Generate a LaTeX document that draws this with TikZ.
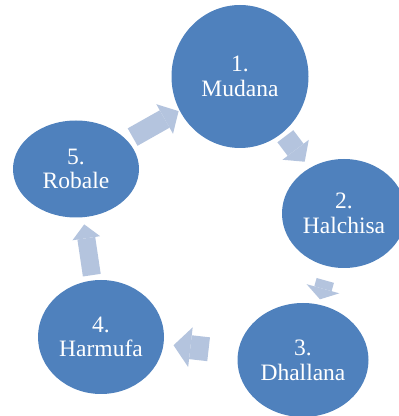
\documentclass[tikz,border=0pt]{standalone}
\usepackage{fontspec}
\setmainfont{Liberation Serif}
\usetikzlibrary{shapes.geometric,arrows.meta}

\begin{document}
\begin{tikzpicture}[x=1pt,y=1pt,
  fase/.style={ellipse, fill=colFase, inner sep=0pt, text=white, align=center,
    font=\fontsize{23.5}{24.7}\selectfont},
  freccia/.style={draw=colFreccia, line cap=butt}]

% Colori
\definecolor{colFase}{HTML}{4F81BD}
\definecolor{colFreccia}{HTML}{B4C4DE}

% Area del disegno
\useasboundingbox (0,0) rectangle (399,416);

% Fasi
\node[fase, minimum width=137pt, minimum height=143pt] (m1) at (240,339.5) {1.\\Mudana};
\node[fase, minimum width=124pt, minimum height=109pt] (m2) at (344,202.5) {2.\\Halchisa};
\node[fase, minimum width=131pt, minimum height=114pt] (m3) at (303,56) {3.\\Dhallana};
\node[fase, minimum width=126pt, minimum height=114pt] (m4) at (101,79) {4.\\Harmufa};
\node[fase, minimum width=126pt, minimum height=97pt] (m5) at (76,247) {5.\\Robale};

% Frecce del ciclo
\draw[freccia, line width=20pt, -{Triangle[width=33pt,length=15pt,line width=0pt]},
  shorten <=75pt, shorten >=65pt] (m1.center) -- (m2.center);
\draw[freccia, line width=18pt, -{Triangle[width=34pt,length=11pt,line width=0pt]},
  shorten <=69.5pt, shorten >=63pt] (m2.center) -- (m3.center);
\draw[freccia, line width=24pt, -{Triangle[width=40pt,length=17pt,line width=0pt]},
  shorten <=95pt, shorten >=73pt] (m3.center) -- (m4.center);
\draw[freccia, line width=18pt, -{Triangle[width=28pt,length=14pt,line width=0pt]},
  shorten <=62.5pt, shorten >=56pt] (m4.center) -- (m5.center);
\draw[freccia, line width=20pt, -{Triangle[width=34pt,length=16pt,line width=0pt]},
  shorten <=65pt, shorten >=70.5pt] (m5.center) -- (m1.center);

\end{tikzpicture}
\end{document}
